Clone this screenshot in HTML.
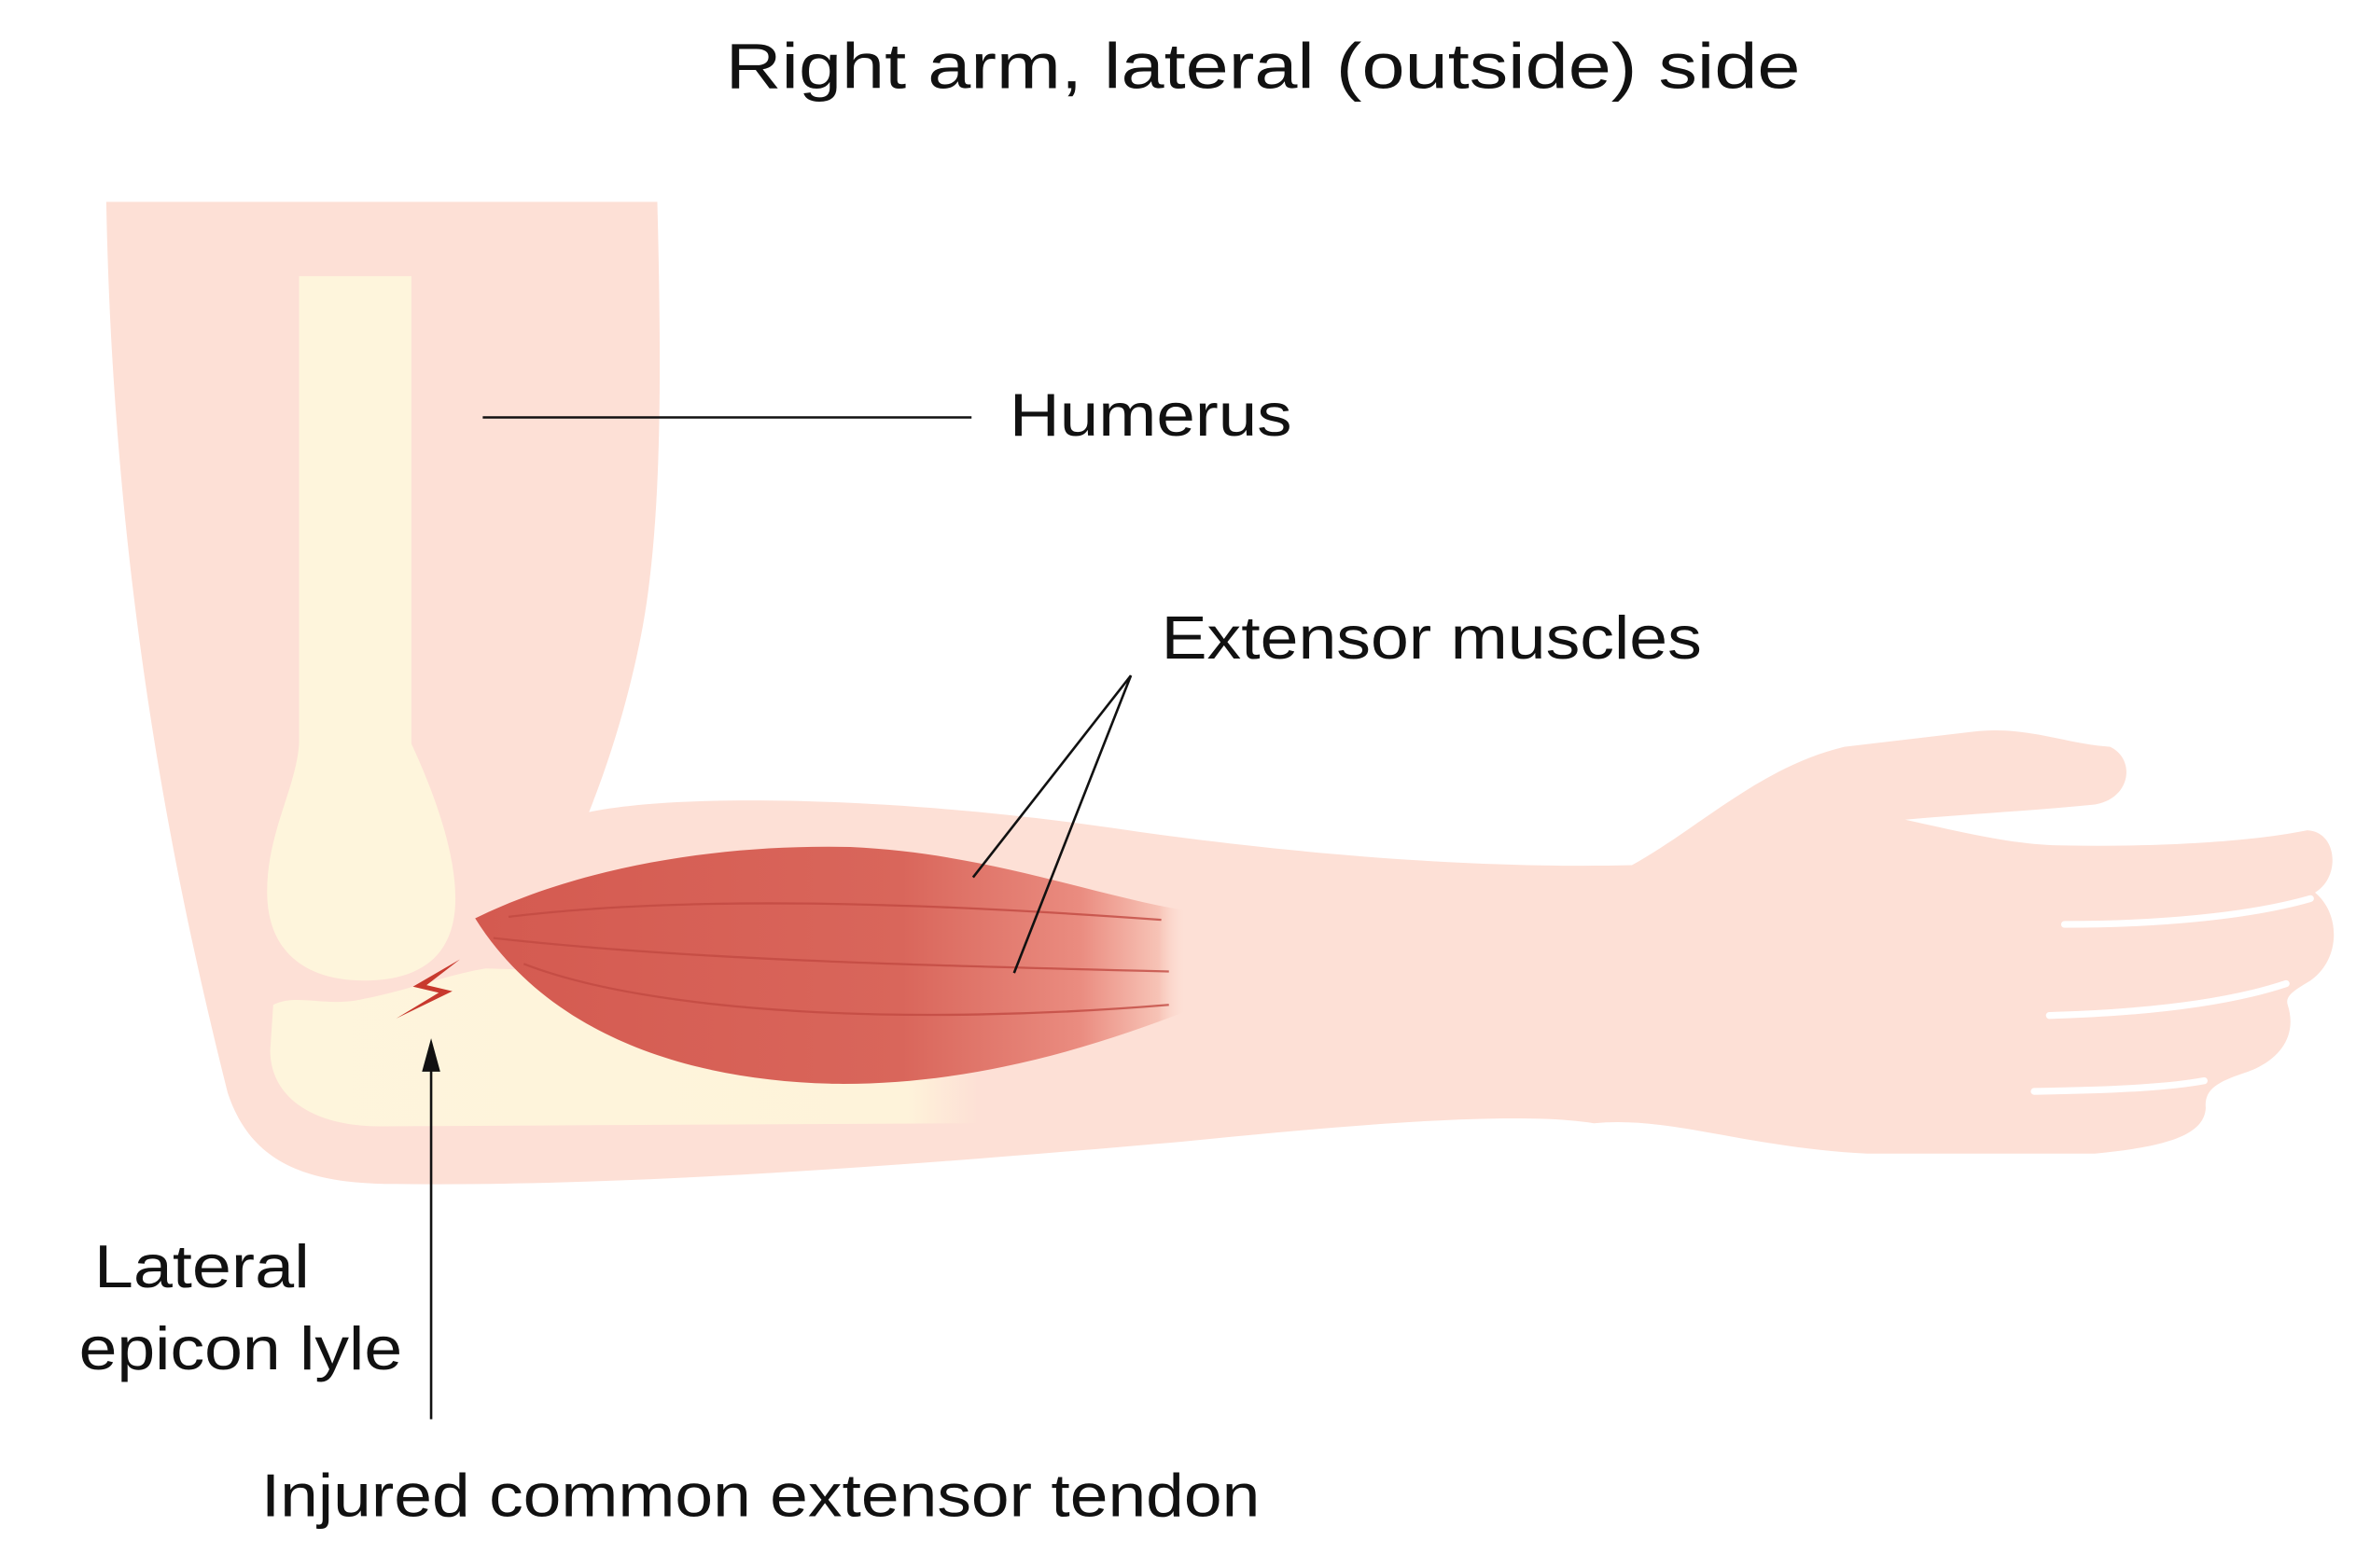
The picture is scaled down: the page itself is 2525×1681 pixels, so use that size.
<!DOCTYPE html>
<html><head><meta charset="utf-8"><style>
html,body{margin:0;padding:0;background:#fff;}
svg{display:block;}
text{font-family:"Liberation Sans","DejaVu Sans",sans-serif;fill:#111;}
</style></head><body>
<svg width="2525" height="1681" viewBox="0 0 1552 1033" preserveAspectRatio="none" xmlns="http://www.w3.org/2000/svg">
<defs>
<linearGradient id="mg" x1="313" y1="0" x2="782" y2="0" gradientUnits="userSpaceOnUse">
<stop offset="0" stop-color="#d45a50"/>
<stop offset="0.6" stop-color="#d9665b"/>
<stop offset="0.85" stop-color="#ea8c80"/>
<stop offset="0.96" stop-color="#f7c3b6"/>
<stop offset="1" stop-color="#fde0d6" stop-opacity="0"/>
</linearGradient>
<linearGradient id="bg" x1="178" y1="0" x2="645" y2="0" gradientUnits="userSpaceOnUse">
<stop offset="0" stop-color="#fef5dc"/>
<stop offset="0.9" stop-color="#fef3da"/>
<stop offset="1" stop-color="#fef0d8" stop-opacity="0"/>
</linearGradient>
</defs>
<!-- arm -->
<path fill="#fde0d6" d="M70 133 L433 133 C436 250 436 350 422 420 C412 470 398 510 388 535
C450 522 600 525 750 548 C880 566 990 572 1075 570
C1120 545 1160 505 1215 492 L1300 482 C1335 478 1360 490 1390 492 C1407 500 1404 526 1380 530
C1340 534 1300 536 1255 540 C1300 550 1330 557 1360 557 C1420 558 1480 555 1520 547
C1540 548 1542 578 1525 588 C1542 602 1542 632 1522 646 C1512 652 1505 656 1507 662
C1514 684 1500 700 1478 707 C1460 713 1452 718 1453 730 C1452 750 1420 756 1380 760
L1230 760 C1150 756 1100 735 1050 740 C1000 732 900 740 780 752 C620 766 420 782 260 780
C200 780 165 765 150 720 C120 600 75 400 70 133 Z"/>
<g stroke="#fff" stroke-width="4.5" stroke-linecap="round" fill="none">
<path d="M1360 609 C1420 609 1480 604 1522 592"/>
<path d="M1350 669 C1420 667 1470 660 1506 648"/>
<path d="M1340 719 C1400 718 1430 716 1452 712"/>
</g>
<!-- bones -->
<path fill="#fef5dc" d="M197 182 L271 182 L271 490 C285 520 300 560 300 592 C300 627 280 646 240 646 C200 646 177 626 176 590 C175 550 195 520 197 490 Z"/>
<path fill="url(#bg)" d="M180 662 C195 654 215 664 240 658 C270 652 295 642 320 638 L645 648 L645 740 L250 742 C205 742 178 722 178 692 Z"/>
<!-- muscle -->
<path fill="url(#mg)" d="M313 605 C380 572 470 556 560 558 C650 562 720 590 782 600 L782 666 C720 690 640 715 550 714 C450 712 360 680 313 605 Z"/>
<g stroke="#c24a42" stroke-width="1.4" fill="none" opacity="0.8">
<path d="M335 604 C450 590 600 594 765 606"/>
<path d="M325 618 C450 632 600 636 770 640"/>
<path d="M345 635 C430 668 600 676 770 662"/>
</g>
<!-- lightning -->
<path fill="#c8392e" d="M303 632 L272 650 L289 654 L261 671 L298 653 L281 649 Z"/>
<!-- leader lines -->
<g stroke="#111" stroke-width="1.6" fill="none">
<line x1="318" y1="275" x2="640" y2="275"/>
<line x1="745" y1="445" x2="641" y2="578"/>
<line x1="745" y1="445" x2="668" y2="641"/>
<line x1="284" y1="935" x2="284" y2="700"/>
</g>
<path d="M284 684 L278 706 L290 706 Z" fill="#111"/>
<!-- text -->
<text x="478" y="58" font-size="42" textLength="708" lengthAdjust="spacingAndGlyphs">Right arm, lateral (outside) side</text>
<text x="665" y="287" font-size="40" textLength="186" lengthAdjust="spacingAndGlyphs">Humerus</text>
<text x="765" y="434" font-size="40" textLength="356" lengthAdjust="spacingAndGlyphs">Extensor muscles</text>
<text x="62" y="848" font-size="40" textLength="142" lengthAdjust="spacingAndGlyphs">Lateral</text>
<text x="52" y="902" font-size="40" textLength="213" lengthAdjust="spacingAndGlyphs">epicon lyle</text>
<text x="172" y="999" font-size="40" textLength="658" lengthAdjust="spacingAndGlyphs">Injured common extensor tendon</text>
</svg>
</body></html>
